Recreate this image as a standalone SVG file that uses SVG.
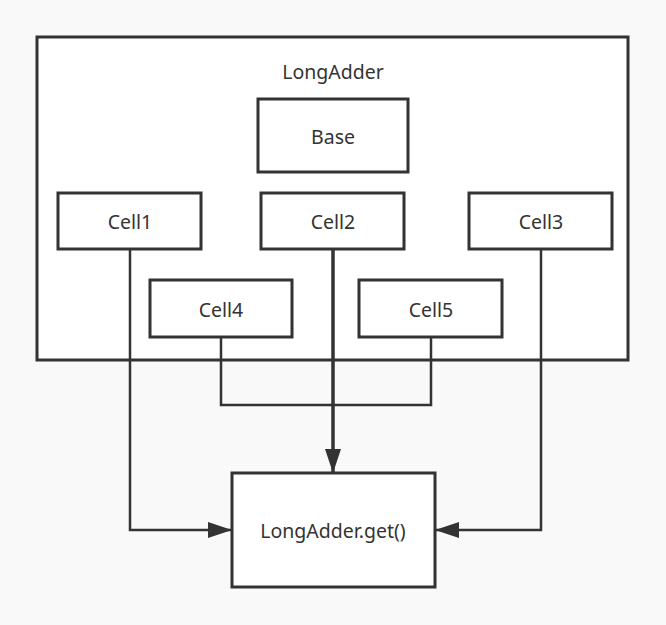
<svg xmlns="http://www.w3.org/2000/svg" width="666" height="625" viewBox="0 0 666 625">
<style>
.box{fill:#fff;stroke:#333;stroke-width:3}
.t{font-family:"Noto Sans","Open Sans",sans-serif;font-size:19.5px;fill:#333;text-anchor:middle;dominant-baseline:central}
.ln{fill:none;stroke:#333;stroke-width:2.5}
.thick{fill:none;stroke:#333;stroke-width:3.5}
</style>
<defs>
<marker id="ah" viewBox="0 0 24 16" refX="24" refY="8" markerWidth="24" markerHeight="16" markerUnits="userSpaceOnUse" orient="auto">
<path d="M0,0 L24,8 L0,16 Z" fill="#333"/>
</marker>
</defs>
<rect width="666" height="625" fill="#f9f9f9"/>
<g id="longadder">
<rect class="box" x="37" y="37" width="591" height="323"/>
<text class="t" x="333" y="71">LongAdder</text>
</g>
<g id="base"><rect class="box" x="258" y="99" width="150" height="73"/><text class="t" x="333" y="136">Base</text></g>
<g id="cell1"><rect class="box" x="58" y="193" width="143" height="56"/><text class="t" x="130" y="221">Cell1</text></g>
<g id="cell2"><rect class="box" x="261" y="193" width="143" height="56"/><text class="t" x="333" y="221">Cell2</text></g>
<g id="cell3"><rect class="box" x="469" y="193" width="143" height="56"/><text class="t" x="541" y="221">Cell3</text></g>
<g id="cell4"><rect class="box" x="150" y="280" width="142" height="57"/><text class="t" x="221" y="309">Cell4</text></g>
<g id="cell5"><rect class="box" x="359" y="280" width="143" height="57"/><text class="t" x="431" y="309">Cell5</text></g>
<g id="connectors">
<path class="ln" d="M130,249 V530 H232" marker-end="url(#ah)"/>
<path class="ln" d="M541,249 V530 H435" marker-end="url(#ah)"/>
<path class="ln" d="M221,337 V405 H431 V337"/>
<path class="thick" d="M333,249 V473" marker-end="url(#ah)"/>
</g>
<g id="get"><rect class="box" x="232" y="473" width="203" height="114"/><text class="t" x="333" y="530">LongAdder.get()</text></g>
</svg>
